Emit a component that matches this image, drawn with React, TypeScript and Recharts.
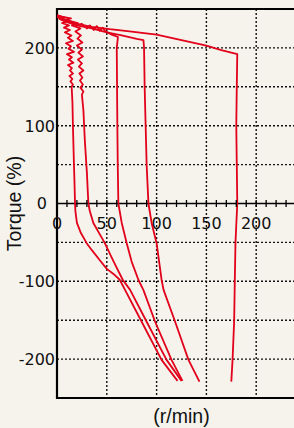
import { LineChart, Line, XAxis, YAxis, CartesianGrid, ReferenceLine, ReferenceArea } from "recharts";

// [speed r/min, torque %], bottom -> top -> back to the left
const run180: [number, number][] = [
  [175, -229], [176.3, -200], [177.9, -150], [178.5, -100], [179.2, -50], [181, 0],
  [180.5, 50], [180, 100], [180.5, 150], [181, 192], [165, 197], [150, 203],
  [125, 210], [100, 217], [75, 221], [53, 224], [35, 227], [20, 231], [8, 235], [0, 240],
];
const run90: [number, number][] = [
  [143, -229], [132, -201], [118.6, -152], [107, -111], [105, -98], [100, -51],
  [95, -25], [91.8, 0], [90, 50], [89, 100], [88, 150], [87.4, 200], [86.8, 210],
  [80, 211.5], [65, 216], [50, 220], [35, 225], [20, 229], [8, 234], [2, 238],
];
const run60: [number, number][] = [
  [126, -228], [115, -201], [98.5, -152], [86.7, -111], [81.7, -98], [75, -75],
  [70, -51], [65, -25], [61.6, 0], [61, 50], [60.6, 100], [60.3, 150], [60, 200],
  [61.2, 214], [55, 217], [48, 222], [46, 226], [43, 222], [40, 228], [37, 223],
  [33, 229], [30, 225], [25, 231], [20, 229], [12, 235], [5, 237], [0, 240],
];
const run30: [number, number][] = [
  [125, -228], [110, -201], [90, -152], [73.4, -111], [66, -98], [57, -75],
  [48, -51], [36.5, -25], [33, -10], [31.5, 0], [30, 40], [28, 80], [26.5, 120],
  [25, 140], [26.5, 144], [23.5, 149], [26, 153], [23, 158], [25.5, 162],
  [22.5, 167], [26.5, 171], [22, 176], [25, 180], [21, 185], [26, 189],
  [21.5, 194], [25, 198], [20, 203], [25.5, 207], [20.5, 212], [24, 216],
  [18.5, 221], [23.5, 225], [15, 229], [21, 232], [9, 236], [14, 238], [0, 241],
];
const run18: [number, number][] = [
  [121, -228], [105, -201], [85, -152], [68.3, -111], [63, -98], [58, -92],
  [50, -84], [43, -73], [35, -60], [29.8, -51], [24, -38], [20, -25], [18.5, -10],
  [18.1, 0], [17.5, 30], [16.8, 60], [16, 100], [15.5, 130], [14.7, 150],
  [16, 153], [13.5, 157], [15.5, 160], [12.5, 164], [16, 167], [13, 171],
  [15, 174], [11, 178], [16.5, 181], [12, 185], [15, 188], [10, 192], [17, 195],
  [11.5, 199], [14, 202], [9, 206], [16, 209], [11, 213], [14.5, 216], [8, 220],
  [13, 223], [7, 226], [12, 229], [5, 232], [10, 234], [3, 237], [8, 239], [0, 242],
];

const runs = [run180, run90, run60, run30, run18];

const rpmTicks = [0, 10, 20, 30, 40, 50, 60, 70, 80, 90, 100, 110, 120, 130, 140, 150, 160, 170, 180, 190, 200, 210, 220, 230, 240, 250];
const rpmLabels = [0, 50, 100, 150, 200];
const torqueTicks = [-200, -100, 0, 100, 200];
const gridRpm = [50, 100, 150, 200, 250];
const gridTorque = [-200, -150, -100, -50, 50, 100, 150, 200];

const TOP = 9;
const PLOT_H = 389;
const ZERO_Y = TOP + PLOT_H / 2;
const RED = "#e2001a";
const TICK_FONT = "'DejaVu Sans', sans-serif";
const LABEL_FONT = "'Liberation Sans', Arial, sans-serif";

function RpmTick(props: any) {
  const { x, payload } = props;
  const v = payload.value;
  return (
    <g>
      <line x1={x} x2={x} y1={ZERO_Y - 3.5} y2={ZERO_Y + 3.5} stroke="#000" strokeWidth={1.3} />
      {rpmLabels.includes(v) && (
        <text x={x} y={ZERO_Y + 25} textAnchor="middle" fontSize={16} fontFamily={TICK_FONT} fill="#111">
          {v}
        </text>
      )}
    </g>
  );
}

function TorqueTick(props: any) {
  const { y, payload } = props;
  const v = payload.value;
  return (
    <text x={v === 0 ? 47 : 55} y={y + 5.8} textAnchor="end" fontSize={16} fontFamily={TICK_FONT} fill="#111">
      {v}
    </text>
  );
}

function TorqueLabel(props: any) {
  const vb = props.viewBox || {};
  const cy = (vb.y ?? TOP) + (vb.height ?? PLOT_H) / 2;
  return (
    <text
      x={21}
      y={cy}
      transform={`rotate(-90, 21, ${cy})`}
      textAnchor="middle"
      fontSize={19.5}
      fontFamily={LABEL_FONT}
      fill="#111"
    >
      Torque (%)
    </text>
  );
}

export default function App() {
  return (
    <div
      style={{
        position: "absolute",
        left: 0,
        top: 0,
        width: 294,
        height: 428,
        overflow: "hidden",
        background: "#f6f3ec",
      }}
    >
      <LineChart width={311} height={428} margin={{ top: TOP, right: 5, left: 0, bottom: 0 }}>
        <CartesianGrid
          stroke="#111"
          strokeWidth={1.4}
          strokeDasharray="2 2"
          verticalValues={gridRpm}
          horizontalValues={gridTorque}
        />
        <XAxis
          type="number"
          dataKey="rpm"
          domain={[0, 250]}
          ticks={rpmTicks}
          interval={0}
          height={30}
          axisLine={false}
          tickLine={false}
          tick={<RpmTick />}
          allowDataOverflow
          label={{
            value: "(r/min)",
            position: "insideBottom",
            offset: 5.5,
            fontSize: 19.5,
            fontFamily: LABEL_FONT,
            fill: "#111",
          }}
        />
        <YAxis
          type="number"
          domain={[-250, 250]}
          ticks={torqueTicks}
          interval={0}
          width={57}
          axisLine={false}
          tickLine={false}
          tick={<TorqueTick />}
          allowDataOverflow
          label={<TorqueLabel />}
        />
        <ReferenceLine y={0} stroke="#000" strokeWidth={1.5} />
        <ReferenceArea x1={0} x2={250} y1={-250} y2={250} fill="none" stroke="#000" strokeWidth={2.2} fillOpacity={0} />
        {runs.map((run, i) => (
          <Line
            key={i}
            data={run.map(([rpm, torque]) => ({ rpm, torque }))}
            dataKey="torque"
            stroke={RED}
            strokeWidth={1.8}
            strokeLinejoin="round"
            dot={false}
            activeDot={false}
            isAnimationActive={false}
            type="linear"
          />
        ))}
      </LineChart>
    </div>
  );
}
